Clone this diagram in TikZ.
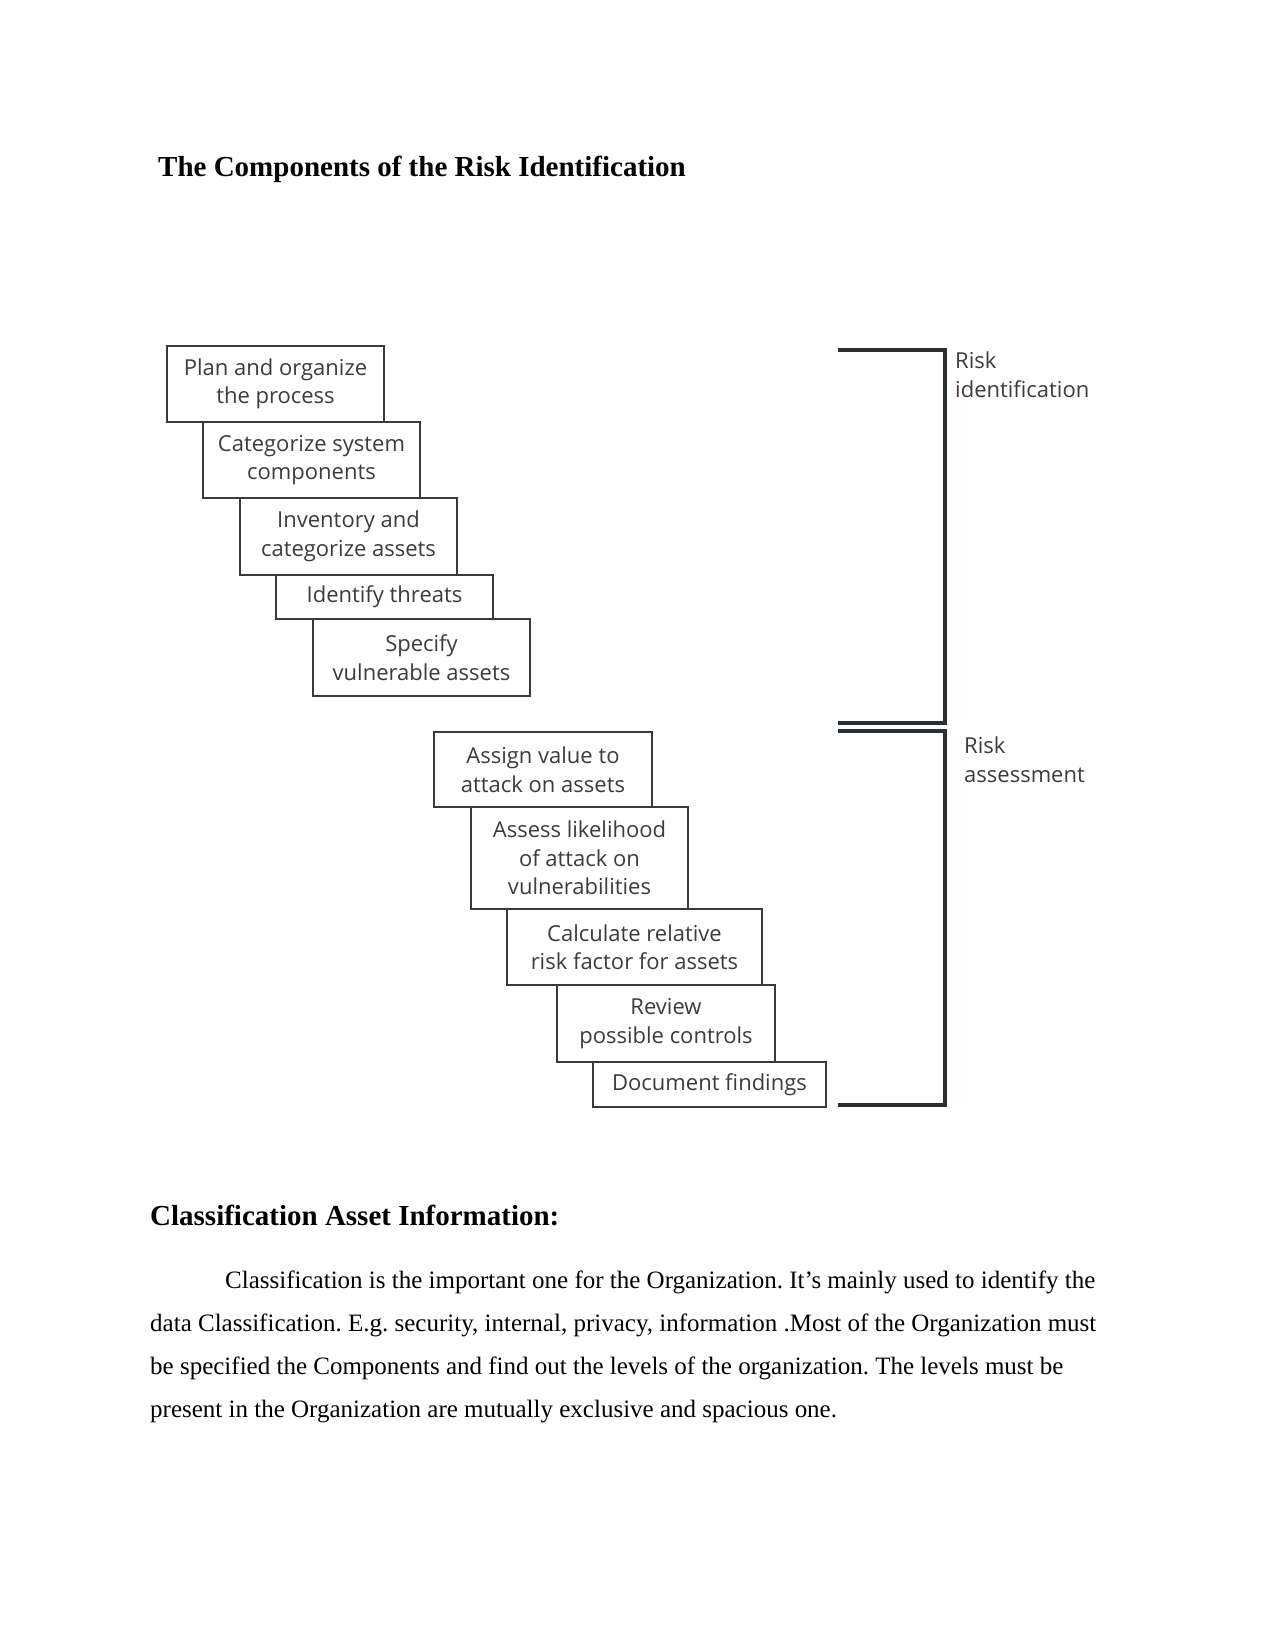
\documentclass[tikz,border=0pt]{standalone}
\usepackage{fontspec}
\setmainfont{Liberation Serif}
\newfontfamily\boxfont{Open Sans}
\definecolor{boxtext}{HTML}{3C3C3C}
\definecolor{boxline}{HTML}{3A3A3A}
\definecolor{brk}{HTML}{2A2E35}
\frenchspacing
\begin{document}
\frenchspacing
\begin{tikzpicture}[x=1pt,y=-1pt,
  stepbox/.style={draw=boxline, line width=1.5pt, inner sep=0pt, align=center,
     text=boxtext, font=\boxfont\fontsize{22}{28.5}\selectfont},
  brlabel/.style={anchor=base west, inner sep=0pt, align=left, text=boxtext,
     font=\boxfont\fontsize{22}{29}\selectfont},
  bracket/.style={draw=brk, line width=3.2pt},
  heading/.style={anchor=base west, inner sep=0pt, font=\bfseries\fontsize{29}{34}\selectfont},
  body/.style={anchor=base west, inner sep=0pt, font=\frenchspacing\fontsize{25}{30}\selectfont}]
\useasboundingbox[fill=white] (0,0) rectangle (1275,1650);

% title
\node[heading] (title) at (158,176) {The Components of the Risk Identification};

% boxes: (left,top) rectangle (right,bottom)
\newcommand{\stepnode}[6]{%
  \node[stepbox, minimum width={#4-#2}, minimum height={#5-#3}] (#1) at ({(#2+#4)/2},{(#3+#5)/2}) {#6};}
\stepnode{b1}{167}{346}{384}{422}{Plan and organize\\the process}
\stepnode{b2}{203}{422}{420}{498}{Categorize system\\components}
\stepnode{b3}{240}{498}{457}{575}{Inventory and\\categorize assets}
\stepnode{b4}{276}{575}{493}{619}{Identify threats}
\stepnode{b5}{313}{619}{530}{696}{Specify\\vulnerable assets}
\stepnode{b6}{434}{732}{652}{807}{Assign value to\\attack on assets}
\stepnode{b7}{471}{807}{688}{909}{Assess likelihood\\of attack on\\vulnerabilities}
\stepnode{b8}{507}{909}{762}{985}{Calculate relative\\risk factor for assets}
\stepnode{b9}{557}{985}{775}{1062}{Review\\possible controls}
\stepnode{b10}{593}{1062}{826}{1107}{Document findings}

% brackets
\coordinate (i1) at (838,350);
\coordinate (i2) at (945,350);
\coordinate (i3) at (945,723);
\coordinate (i4) at (838,723);
\coordinate (a1) at (838,731);
\coordinate (a2) at (945,731);
\coordinate (a3) at (945,1105);
\coordinate (a4) at (838,1105);
\draw[bracket] (i1) -- (i2) -- (i3) -- (i4);
\draw[bracket] (a1) -- (a2) -- (a3) -- (a4);

% base anchor of a multi-line node is the last line's baseline
\node[brlabel] (lid) at (955,397) {Risk\\identification};
\node[brlabel] (las) at (964,782) {Risk\\assessment};

% lower text
\node[heading] (h2) at (150,1225) {Classification Asset Information:};
\node[body] (p1) at (225,1288) {Classification is the important one for the Organization. It’s mainly used to identify the};
\node[body] (p2) at (150,1331) {data Classification. E.g. security, internal, privacy, information .Most of the Organization must};
\node[body] (p3) at (150,1374) {be specified the Components and find out the levels of the organization. The levels must be};
\node[body] (p4) at (150,1417) {present in the Organization are mutually exclusive and spacious one.};
\end{tikzpicture}
\end{document}
